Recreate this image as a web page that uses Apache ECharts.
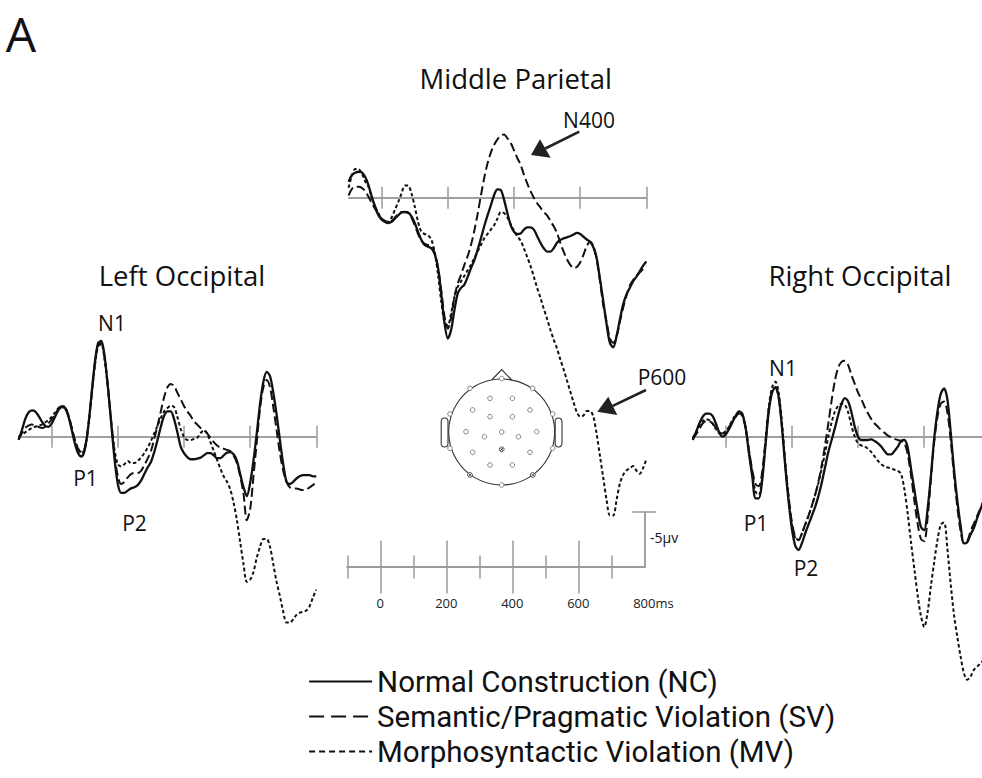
<!DOCTYPE html>
<html>
<head>
<meta charset="utf-8">
<script src="https://cdn.jsdelivr.net/npm/echarts@6/dist/echarts.min.js"></script>
<style>
html,body{margin:0;padding:0;background:#fff;}
#chart{width:982px;height:778px;}
</style>
</head>
<body>
<div id="chart"></div>
<script>
// ---------------- data ----------------
const SERIES_NAMES = ['Normal Construction (NC)', 'Semantic/Pragmatic Violation (SV)', 'Morphosyntactic Violation (MV)'];
const PANEL_TITLES = ['Left Occipital', 'Middle Parietal', 'Right Occipital'];

// time (ms) of each sample
const TIME = [-100,-90,-80,-70,-60,-50,-40,-30,-20,-10,
  0,10,20,30,40,50,60,70,80,90,
  100,110,120,130,140,150,160,170,180,190,
  200,210,220,230,240,250,260,270,280,290,
  300,310,320,330,340,350,360,370,380,390,
  400,410,420,430,440,450,460,470,480,490,
  500,510,520,530,540,550,560,570,580,590,
  600,610,620,630,640,650,660,670,680,690,
  700,710,720,730,740,750,760,770,780,790,
  800];
// right panel is cut at the picture edge
const TIME_R = [-100,-90,-80,-70,-60,-50,-40,-30,-20,-10,
  0,10,20,30,40,50,60,70,80,90,
  100,110,120,130,140,150,160,170,180,190,
  200,210,220,230,240,250,260,270,280,290,
  300,310,320,330,340,350,360,370,380,390,
  400,410,420,430,440,450,460,470,480,490,
  500,510,520,530,540,550,560,570,580,590,
  600,610,620,630,640,650,660,670,680,690,
  700,710,720,730,740,750,760,770,780];

// amplitudes in microvolts (negative plotted up)
const NC_LEFT = [0.3,-0.6,-1.6,-2.2,-2.4,-2.3,-1.9,-1.4,-1.0,-0.9,
  -1.2,-1.8,-2.4,-2.7,-2.6,-1.9,-0.7,0.6,1.5,1.8,
  1.2,-0.8,-3.7,-6.6,-8.5,-8.7,-7.3,-4.5,-1.2,2.0,
  4.3,5.1,5.1,4.9,4.7,4.6,4.4,4.0,3.4,2.8,
  2.3,1.4,0.3,-0.9,-1.9,-2.3,-2.3,-1.6,-0.4,0.9,
  1.5,1.85,2.05,2.05,2.0,1.9,1.7,1.5,1.5,1.7,
  1.95,1.95,1.7,1.45,1.4,1.6,2.2,3.4,4.6,5.4,
  4.2,2.2,-0.3,-3.0,-5.0,-5.9,-5.5,-4.0,-2.0,0.3,
  2.5,4.1,4.3,4.1,3.8,3.6,3.5,3.5,3.5,3.6,
  3.6];
const SV_LEFT = [0.2,-0.3,-0.8,-1.0,-1.1,-1.0,-0.9,-0.8,-0.9,-1.2,
  -1.6,-2.0,-2.5,-2.8,-2.7,-2.0,-0.9,0.3,1.1,1.4,
  1.0,-0.8,-3.6,-6.5,-8.3,-8.5,-7.2,-4.6,-1.4,1.6,
  3.6,4.3,4.1,3.7,3.4,3.3,3.3,3.1,2.6,2.0,
  1.3,0.2,-1.0,-2.3,-3.6,-4.5,-4.8,-4.6,-4.0,-3.4,
  -2.8,-2.3,-1.9,-1.4,-1.1,-0.8,-0.6,-0.3,0.1,0.5,
  0.8,1.0,1.1,1.2,1.3,1.7,2.4,3.6,5.2,7.6,
  6.6,3.6,0.5,-2.6,-4.5,-5.15,-4.5,-2.7,-0.6,1.5,
  3.1,4.1,4.6,4.7,4.7,4.8,4.85,4.8,4.6,4.4,
  4.1];
const MV_LEFT = [0.0,-0.2,-0.4,-0.6,-0.8,-0.9,-1.0,-1.1,-1.3,-1.5,
  -1.8,-2.2,-2.6,-2.8,-2.7,-2.0,-0.9,0.3,1.1,1.5,
  1.1,-0.7,-3.5,-6.3,-8.2,-8.4,-7.0,-4.4,-1.4,1.2,
  2.5,2.7,2.5,2.2,2.4,2.4,2.2,1.9,1.5,1.0,
  0.4,-0.3,-1.0,-1.7,-2.3,-2.6,-2.8,-2.7,-1.8,-0.7,
  0.0,0.3,0.3,0.2,0.1,-0.3,-0.6,-0.3,0.5,1.3,
  2.1,2.9,3.6,4.1,4.8,6.0,7.6,9.6,11.6,13.2,
  13.0,12.3,11.0,10.0,9.3,9.3,10.0,11.6,13.2,14.5,
  15.9,16.9,16.9,16.6,16.2,16.0,15.9,15.8,15.4,14.6,
  13.9];

const NC_MID = [-1.45,-2.06,-2.27,-2.36,-2.3,-1.9,-1.15,-0.1,0.8,1.6,
  2.0,2.2,2.3,2.2,1.9,1.6,1.35,1.3,1.35,1.7,
  2.3,3.1,3.85,4.3,4.45,4.6,5.1,6.3,8.7,11.4,
  12.8,12.0,10.2,8.7,8.2,7.9,7.2,6.4,5.7,4.75,
  3.7,2.6,1.6,0.7,-0.25,-0.75,-0.7,0.2,1.4,2.5,
  3.1,3.3,3.25,2.9,2.7,2.7,2.9,3.5,4.1,4.6,
  4.9,4.9,4.6,4.1,3.85,3.7,3.6,3.5,3.35,3.2,
  3.3,3.55,3.8,4.0,4.5,5.5,7.4,9.4,11.5,13.2,
  13.6,12.6,11.1,9.7,8.8,8.2,7.6,7.2,6.7,6.2,
  5.8];
const SV_MID = [-0.2,-0.8,-1.0,-1.0,-0.9,-0.6,-0.1,0.5,1.0,1.5,
  1.9,2.1,2.2,2.1,1.8,1.5,1.3,1.3,1.4,1.8,
  2.5,3.3,3.9,4.2,4.3,4.4,5.0,6.3,8.4,10.8,
  11.9,10.9,9.0,7.8,7.0,6.1,5.3,4.3,3.0,1.5,
  -0.2,-1.8,-3.1,-4.1,-4.8,-5.3,-5.65,-5.75,-5.4,-5.0,
  -4.3,-3.6,-3.0,-2.1,-1.3,-0.6,0.0,0.5,0.9,1.3,
  1.6,2.1,2.6,3.2,4.1,4.9,5.6,6.1,6.4,6.3,
  5.9,5.2,4.4,4.0,4.4,5.6,7.6,9.8,11.3,12.8,
  13.2,12.6,11.3,10.0,8.9,8.0,7.5,7.1,6.8,6.5,
  6.2];
const MV_MID = [-0.9,-2.0,-2.6,-2.6,-2.2,-1.5,-1.0,0.0,0.8,1.4,
  1.9,2.1,2.2,1.8,1.1,0.4,-0.4,-1.1,-1.1,-0.4,
  0.8,2.2,3.1,3.3,3.4,3.8,4.9,6.9,9.4,11.3,
  11.6,10.5,9.0,8.1,7.6,7.1,6.6,6.1,5.5,4.9,
  4.3,3.7,3.3,2.9,2.5,1.9,1.3,1.4,1.8,2.4,
  3.0,3.5,3.9,4.6,5.4,6.2,7.2,8.2,9.1,10.1,
  11.0,12.0,12.9,13.7,14.7,15.6,16.6,17.6,18.6,19.5,
  19.9,19.8,19.4,19.4,19.9,21.5,23.5,25.5,27.5,28.9,
  28.9,27.5,26.0,25.2,24.8,24.6,24.4,24.8,25.1,24.6,
  23.8];

const NC_RIGHT = [0.3,-0.4,-1.2,-1.8,-2.1,-2.1,-1.9,-1.2,-0.4,0.0,
  -0.2,-0.7,-1.3,-1.9,-2.3,-2.1,-0.8,1.5,3.6,5.6,
  5.6,4.0,0.8,-2.3,-4.0,-4.5,-3.6,-0.8,2.8,5.9,
  8.4,9.9,10.3,9.7,8.8,8.0,7.2,6.4,5.4,4.2,
  2.8,1.4,0.3,-0.8,-2.0,-3.0,-3.5,-3.2,-2.2,-0.9,
  0.0,0.3,0.3,0.3,0.25,0.4,0.6,0.9,1.3,1.6,
  1.6,1.3,0.9,0.4,0.3,1.0,2.9,4.8,6.7,8.2,
  8.5,6.6,3.6,0.2,-2.3,-3.9,-4.4,-3.4,-0.4,3.0,
  5.8,8.1,9.7,9.6,8.9,8.3,7.4,6.6,5.8];
const SV_RIGHT = [0.2,-0.2,-0.7,-1.2,-1.4,-1.4,-1.2,-0.8,-0.4,-0.3,
  -0.5,-0.9,-1.4,-1.8,-2.1,-1.9,-0.8,1.2,3.0,4.3,
  4.5,3.2,0.4,-2.5,-4.2,-4.5,-3.5,-0.9,2.6,5.5,
  7.8,9.1,9.4,8.8,8.0,7.2,6.3,5.3,4.1,2.6,
  0.8,-1.2,-3.3,-5.1,-6.3,-6.8,-6.9,-6.5,-5.6,-4.8,
  -4.0,-3.4,-2.7,-2.1,-1.6,-1.2,-0.9,-0.6,-0.35,-0.1,
  0.05,0.2,0.3,0.4,0.6,1.6,3.5,5.8,7.9,9.3,
  9.5,7.4,3.9,0.5,-1.8,-3.0,-3.2,-2.2,0.3,3.5,
  6.4,8.6,9.7,9.5,8.6,7.9,7.2,6.5,5.8];
const MV_RIGHT = [0.1,-0.4,-1.0,-1.4,-1.6,-1.5,-1.2,-0.7,-0.3,-0.2,
  -0.4,-0.9,-1.5,-2.0,-2.2,-1.9,-0.8,1.3,3.3,5.0,
  5.3,3.7,0.5,-2.7,-4.5,-5.0,-4.0,-1.2,2.4,5.5,
  8.0,9.2,9.4,8.8,8.0,7.2,6.3,5.3,4.2,2.9,
  1.5,0.0,-1.3,-2.3,-2.8,-3.0,-2.9,-2.2,-1.0,0.0,
  0.6,0.8,0.9,1.1,1.4,1.8,2.2,2.5,2.7,2.8,
  2.9,3.0,3.1,3.4,4.8,7.0,9.6,12.0,14.4,16.3,
  17.3,16.0,13.6,11.4,9.4,8.0,7.8,10.2,13.4,16.2,
  18.2,20.0,21.5,22.1,21.8,21.2,20.9,20.6,20.3];

// axis ticks
const PANEL_TICKS = [0, 200, 400, 600, 800];
const SCALE_LONG_TICKS = [0, 200, 400, 600];
const SCALE_SHORT_TICKS = [-100, 100, 300, 500, 700];
const SCALE_LABELS = [0, 200, 400, 600, 800];
const SCALE_VOLT = [-5];

// ---------------- styling ----------------
const FONT = "'Open Sans', 'Noto Sans', sans-serif";
const LEGEND_FONT = "Roboto, 'Open Sans', sans-serif";
const INK = '#111';
const AXIS_GREY = '#9a9a9a';
const LINE_STYLES = [
  {width: 2.3, type: 'solid'},
  {width: 2.0, type: [9, 4]},
  {width: 2.0, type: [3.5, 2.5]}
];
const LEGEND_DASH = ['solid', [15, 7], [6, 4]];

// grid geometry (px)
const GRIDS = [
  {left: 18.6,  top: 326.7, width: 297.7, height: 330, ymin: -10, ymax: 20},
  {left: 348.6, top: 109.7, width: 297.7, height: 440, ymin: -8,  ymax: 32},
  {left: 692.7, top: 326.7, width: 297.7, height: 385, ymin: -10, ymax: 25}
];
const SCALE_GRID = {left: 347.3, top: 512, width: 297, height: 55};

const chart = echarts.init(document.getElementById('chart'), null, {renderer: 'svg', width: 982, height: 778});

const grid = [];
const xAxis = [];
const yAxis = [];
const series = [];

function tickAxis(gridIndex, position, ticks, len, extra) {
  return Object.assign({
    type: 'value', gridIndex, position, min: -100, max: 800,
    axisLine: {show: true, onZero: true, lineStyle: {color: AXIS_GREY, width: 1.5}},
    axisTick: {show: true, customValues: ticks, length: len, inside: false, lineStyle: {color: AXIS_GREY, width: 1.5}},
    axisLabel: {show: false}, splitLine: {show: false}, axisPointer: {show: false}
  }, extra || {});
}
function hiddenY(gridIndex, min, max) {
  return {type: 'value', gridIndex, min, max, inverse: true, show: false,
          axisLine: {onZero: false}, splitLine: {show: false}};
}

GRIDS.forEach((g, i) => {
  grid.push({left: g.left, top: g.top, width: g.width, height: g.height, containLabel: false, outerBoundsMode: 'none'});
  xAxis.push(tickAxis(i, 'bottom', PANEL_TICKS, 11));
  xAxis.push(tickAxis(i, 'top', PANEL_TICKS, 11));
  yAxis.push(hiddenY(i, g.ymin, g.ymax));
  yAxis.push(hiddenY(i, g.ymin, g.ymax));
});

// scale bar grid (index 3)
grid.push({left: SCALE_GRID.left, top: SCALE_GRID.top, width: SCALE_GRID.width, height: SCALE_GRID.height, containLabel: false, outerBoundsMode: 'none'});
xAxis.push(tickAxis(3, 'bottom', SCALE_LONG_TICKS, 26.5, {
  axisLabel: {
    show: true, customValues: SCALE_LABELS, margin: 29, color: '#222', fontSize: 13, fontFamily: FONT,
    formatter: v => v === 800 ? '{h|ms}800ms' : String(v),
    rich: {h: {color: 'rgba(0,0,0,0)', fontSize: 13, fontFamily: FONT}}
  }
}));
xAxis.push(tickAxis(3, 'top', SCALE_LONG_TICKS, 26.5));
xAxis.push(tickAxis(3, 'bottom', SCALE_SHORT_TICKS, 11.5));
xAxis.push(tickAxis(3, 'top', SCALE_SHORT_TICKS, 11.5));
for (let k = 0; k < 4; k++) yAxis.push(hiddenY(3, -5, 0));
const voltAxisBase = {
  type: 'value', gridIndex: 3, position: 'right', min: -5, max: 0, inverse: true,
  axisLine: {show: true, onZero: false, lineStyle: {color: AXIS_GREY, width: 1.5}},
  axisLabel: {show: false}, splitLine: {show: false}
};
yAxis.push(Object.assign({}, voltAxisBase, {axisTick: {show: true, customValues: SCALE_VOLT, length: 12, inside: false, lineStyle: {color: AXIS_GREY, width: 1.5}}}));
yAxis.push(Object.assign({}, voltAxisBase, {axisTick: {show: true, customValues: SCALE_VOLT, length: 12, inside: true, lineStyle: {color: AXIS_GREY, width: 1.5}}}));

// waveform series
const PANEL_DATA = [
  {time: TIME,   vals: [NC_LEFT, SV_LEFT, MV_LEFT]},
  {time: TIME,   vals: [NC_MID, SV_MID, MV_MID]},
  {time: TIME_R, vals: [NC_RIGHT, SV_RIGHT, MV_RIGHT]}
];
PANEL_DATA.forEach((p, pi) => {
  p.vals.forEach((vals, si) => {
    series.push({
      type: 'line', name: SERIES_NAMES[si],
      xAxisIndex: pi * 2, yAxisIndex: pi * 2,
      data: p.time.map((t, i) => [t, vals[i]]),
      showSymbol: false, symbol: 'none', smooth: 0.3,
      lineStyle: {color: INK, width: LINE_STYLES[si].width, type: LINE_STYLES[si].type, cap: 'butt'},
      itemStyle: {color: INK},
      silent: true, animation: false, z: 3 - si, clip: true
    });
  });
});

// ---------------- annotations ----------------
function txt(x, y, s, size, align) {
  return {type: 'text', x, y, silent: true, z: 10,
    style: {text: s, fontSize: size, fontFamily: FONT, fill: INK,
            textAlign: align || 'center', textVerticalAlign: 'middle',
            align: align || 'center', verticalAlign: 'middle'}};
}
function arrow(x0, y0, bx, by, tip, c1, c2) {
  return [
    {type: 'line', silent: true, z: 10, shape: {x1: x0, y1: y0, x2: bx, y2: by}, style: {stroke: '#222', lineWidth: 2.6}},
    {type: 'polygon', silent: true, z: 10, shape: {points: [tip, c1, c2]}, style: {fill: '#222'}}
  ];
}

const ELECTRODES = [[0,-53.5],[-31.7,-43.7],[31,-43.7],[-11.7,-33.7],[10.7,-33.7],[-29,-22],[28.3,-22],
  [-11.7,-15.3],[10.7,-15.3],[-51.7,-18],[51,-18],[-35.7,-0.3],[35,-0.3],[-17.3,4.7],[16.7,4.7],[0,0],
  [-51.7,16.3],[51,16.3],[-29,20.3],[28.3,20.3],[-11.7,33],[10.7,33],[0,53]];
const CROSSED = [[0,17.3],[-31.7,43],[31,43]];
const headChildren = [
  {type: 'circle', shape: {cx: 0, cy: 0, r: 53}, style: {fill: 'none', stroke: '#333', lineWidth: 1.1}},
  {type: 'polyline', shape: {points: [[-10,-52],[0,-62.5],[10,-52]]}, style: {fill: 'none', stroke: '#333', lineWidth: 1.1}},
  {type: 'rect', shape: {x: -60.5, y: -14, width: 6.8, height: 29, r: 3.4}, style: {fill: '#fff', stroke: '#333', lineWidth: 1.1}},
  {type: 'rect', shape: {x: 53.5, y: -14, width: 6.8, height: 29, r: 3.4}, style: {fill: '#fff', stroke: '#333', lineWidth: 1.1}}
];
ELECTRODES.forEach(([ex, ey]) => headChildren.push({type: 'circle', shape: {cx: ex, cy: ey, r: 2.3}, style: {fill: '#fff', stroke: '#666', lineWidth: 0.8}}));
CROSSED.forEach(([ex, ey]) => {
  headChildren.push({type: 'circle', shape: {cx: ex, cy: ey, r: 2.4}, style: {fill: '#fff', stroke: '#444', lineWidth: 0.9}});
  headChildren.push({type: 'line', shape: {x1: ex - 1.7, y1: ey - 1.7, x2: ex + 1.7, y2: ey + 1.7}, style: {stroke: '#444', lineWidth: 0.9}});
  headChildren.push({type: 'line', shape: {x1: ex - 1.7, y1: ey + 1.7, x2: ex + 1.7, y2: ey - 1.7}, style: {stroke: '#444', lineWidth: 0.9}});
});

const graphic = [
  txt(21, 33, 'A', 48),
  txt(182, 275, PANEL_TITLES[0], 27.5),
  txt(515.7, 78, PANEL_TITLES[1], 27.5),
  txt(860, 275, PANEL_TITLES[2], 27.5),
  txt(112, 323, 'N1', 21),
  txt(85.5, 478, 'P1', 21),
  txt(134.5, 523, 'P2', 21),
  txt(783, 368, 'N1', 21),
  txt(756, 523, 'P1', 21),
  txt(806, 568, 'P2', 21),
  txt(589, 120, 'N400', 21),
  txt(662, 377, 'P600', 21),
  txt(650, 537, '-5\u03BCv', 14, 'left'),
  ...arrow(579.3, 131.7, 545.3, 148.5, [531, 155], [540, 139.3], [550.7, 157.7]),
  ...arrow(646, 390, 612.8, 405.8, [597.3, 411.7], [608.3, 396.7], [617.3, 415]),
  {type: 'group', x: 501.7, y: 432, silent: true, z: 5, children: headChildren}
];

chart.setOption({
  backgroundColor: '#fff',
  animation: false,
  grid, xAxis, yAxis, series, graphic,
  legend: {
    orient: 'vertical', left: 308, top: 664,
    itemWidth: 63, itemHeight: 14, itemGap: 0,
    selectedMode: false,
    data: SERIES_NAMES.map((n, i) => ({name: n, lineStyle: {type: LEGEND_DASH[i], width: 2.2, color: INK}})),
    itemStyle: {color: 'rgba(0,0,0,0)', borderColor: 'rgba(0,0,0,0)', borderWidth: 0, opacity: 0},
    textStyle: {fontSize: 29.5, fontFamily: LEGEND_FONT, color: INK, lineHeight: 35, padding: [0, 0, 0, 0]},
    padding: 0
  }
});
</script>
</body>
</html>
